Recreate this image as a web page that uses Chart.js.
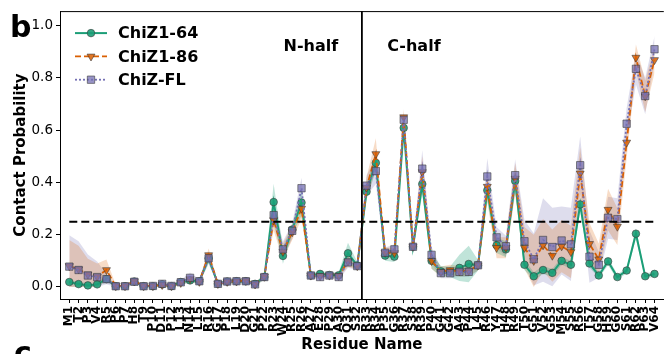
<!DOCTYPE html>
<html><head><meta charset="utf-8">
<script src="https://cdn.jsdelivr.net/npm/chart.js@4/dist/chart.umd.min.js"></script>
<style>html,body{margin:0;padding:0;background:#fff;}#wrap{width:672px;height:354px;position:relative;}</style>
</head><body><div id="wrap"><canvas id="c" width="672" height="354"></canvas></div>
<script>
const residues = ['M1','T2','P3','V4','R5','P6','P7','H8','T9','P10','D11','P12','L13','N14','L15','R16','G17','P18','L19','D20','G21','P22','R23','W24','R25','R26','A27','E28','P29','A30','Q31','S32','R33','R34','P35','G36','R37','S38','R39','P40','G41','G42','A43','P44','L45','R46','Y47','H48','R49','T50','G51','V52','G53','M54','S55','R56','T57','G58','H59','G60','S61','R62','P63','V64'];
const seriesNames = ['ChiZ1-64','ChiZ1-86','ChiZ-FL'];
const chiz64 = [0.019,0.011,0.006,0.010,0.030,0.003,0.003,0.021,0.003,0.003,0.010,0.003,0.019,0.025,0.022,0.110,0.012,0.021,0.022,0.022,0.012,0.038,0.325,0.119,0.220,0.323,0.044,0.050,0.046,0.045,0.129,0.082,0.365,0.475,0.120,0.116,0.609,0.154,0.394,0.100,0.060,0.058,0.073,0.088,0.083,0.370,0.160,0.144,0.406,0.085,0.041,0.065,0.054,0.100,0.085,0.316,0.090,0.044,0.098,0.038,0.063,0.204,0.041,0.050];
const chiz86 = [0.080,0.068,0.048,0.040,0.065,0.004,0.004,0.022,0.004,0.004,0.008,0.004,0.016,0.030,0.020,0.122,0.012,0.020,0.022,0.024,0.010,0.040,0.256,0.135,0.210,0.300,0.044,0.042,0.044,0.042,0.098,0.080,0.380,0.509,0.131,0.130,0.650,0.154,0.440,0.100,0.058,0.065,0.060,0.062,0.083,0.384,0.150,0.150,0.415,0.150,0.100,0.160,0.120,0.156,0.134,0.435,0.165,0.106,0.296,0.231,0.553,0.878,0.730,0.869];
const chizFL = [0.078,0.065,0.044,0.038,0.030,0.003,0.003,0.020,0.003,0.004,0.012,0.004,0.018,0.035,0.022,0.110,0.012,0.021,0.022,0.022,0.010,0.038,0.275,0.144,0.215,0.378,0.044,0.038,0.044,0.038,0.094,0.080,0.388,0.444,0.131,0.144,0.640,0.154,0.453,0.123,0.053,0.053,0.058,0.058,0.083,0.423,0.190,0.156,0.428,0.175,0.106,0.180,0.153,0.178,0.163,0.466,0.116,0.085,0.265,0.260,0.625,0.835,0.731,0.910];
const chiz64Sd = [0.010,0.008,0.008,0.008,0.010,0.005,0.005,0.008,0.005,0.005,0.006,0.005,0.008,0.010,0.008,0.020,0.006,0.008,0.008,0.008,0.006,0.010,0.070,0.030,0.020,0.050,0.010,0.010,0.010,0.010,0.040,0.015,0.030,0.030,0.020,0.020,0.030,0.020,0.040,0.030,0.020,0.020,0.050,0.070,0.020,0.040,0.030,0.030,0.040,0.020,0.015,0.015,0.015,0.015,0.015,0.025,0.015,0.010,0.015,0.010,0.010,0.020,0.010,0.010];
const chiz86Sd = [0.100,0.090,0.060,0.050,0.040,0.005,0.005,0.008,0.005,0.005,0.006,0.005,0.008,0.010,0.008,0.025,0.006,0.008,0.008,0.008,0.006,0.010,0.040,0.030,0.030,0.040,0.010,0.010,0.010,0.010,0.020,0.015,0.040,0.060,0.020,0.020,0.030,0.020,0.060,0.030,0.020,0.020,0.020,0.020,0.020,0.060,0.040,0.040,0.060,0.080,0.100,0.100,0.100,0.100,0.100,0.100,0.080,0.060,0.080,0.070,0.060,0.050,0.060,0.050];
const chizFLSd = [0.120,0.110,0.080,0.060,0.020,0.005,0.005,0.008,0.005,0.005,0.006,0.005,0.008,0.020,0.008,0.020,0.006,0.008,0.008,0.008,0.006,0.010,0.040,0.030,0.030,0.040,0.010,0.010,0.010,0.010,0.020,0.015,0.040,0.050,0.020,0.020,0.030,0.020,0.070,0.030,0.020,0.020,0.020,0.020,0.020,0.070,0.040,0.040,0.060,0.080,0.100,0.160,0.150,0.130,0.140,0.110,0.100,0.050,0.080,0.080,0.060,0.060,0.070,0.050];
const yTickValues = [0.0,0.2,0.4,0.6,0.8,1.0];
const thresholdValue = 0.25;
const lastNHalfResidue = 'S32';
const halfLabels = ['N-half','C-half'];

const FONT = 'DejaVu Sans';
Chart.defaults.font.family = FONT;
Chart.defaults.color = '#000';

const styles = [
  {color:'#1b9e77', band:'rgba(27,158,119,0.28)', dash:[], width:2, point:'circle', r:3.8, rot:0, fill:'rgba(27,158,119,0.9)', order:3},
  {color:'#d95f02', band:'rgba(217,95,2,0.22)', dash:[6,3], width:1.8, point:'triangle', r:4.6, rot:180, fill:'rgba(217,95,2,0.85)', order:2},
  {color:'#7570b3', band:'rgba(117,112,179,0.24)', dash:[2,2], width:1.8, point:'rect', r:5.2, rot:0, fill:'rgba(117,112,179,0.75)', order:1}
];
const means = [chiz64, chiz86, chizFL];
const sds = [chiz64Sd, chiz86Sd, chizFLSd];

const datasets = [];
means.forEach((m, k) => {
  const sd = sds[k];
  datasets.push({label:'_lo'+k, data:m.map((v,i)=>({x:i,y:Math.max(0,v-sd[i])})), pointRadius:0, borderWidth:0, fill:false, order:10});
  datasets.push({label:'_hi'+k, data:m.map((v,i)=>({x:i,y:v+sd[i]})), pointRadius:0, borderWidth:0, backgroundColor:styles[k].band, fill:'-1', order:10});
});
means.forEach((m, k) => {
  const s = styles[k];
  datasets.push({label:seriesNames[k], data:m.map((v,i)=>({x:i,y:v})), borderColor:s.color, borderWidth:s.width, borderDash:s.dash,
    pointStyle:s.point, pointRadius:s.r, pointRotation:s.rot, pointBackgroundColor:s.fill, pointBorderColor:'rgba(60,60,60,0.75)', pointBorderWidth:0.8,
    fill:false, tension:0, order:s.order});
});

function drawMarker(ctx, kind, x, y, r, fill){
  ctx.beginPath();
  if (kind === 'circle') { ctx.arc(x, y, r, 0, Math.PI*2); }
  else if (kind === 'rect') { const h = r*Math.SQRT1_2; ctx.rect(x-h, y-h, 2*h, 2*h); }
  else { const h = r*0.866; ctx.moveTo(x, y + r); ctx.lineTo(x - h, y - r/2); ctx.lineTo(x + h, y - r/2); ctx.closePath(); }
  ctx.fillStyle = fill; ctx.fill();
  ctx.strokeStyle = 'rgba(60,60,60,0.75)'; ctx.lineWidth = 0.8; ctx.setLineDash([]); ctx.stroke();
}

const deco = {
  id:'deco',
  afterDatasetsDraw(chart){
    const {ctx, chartArea:a, scales:{x, y}} = chart;
    ctx.save();
    ctx.strokeStyle = '#000';
    ctx.lineWidth = 1;
    ctx.beginPath(); ctx.moveTo(a.left, a.top + 0.5); ctx.lineTo(a.right, a.top + 0.5); ctx.stroke();
    const yy = y.getPixelForValue(thresholdValue);
    ctx.setLineDash([8,4]); ctx.lineWidth = 2;
    ctx.beginPath(); ctx.moveTo(x.getPixelForValue(0), yy); ctx.lineTo(x.getPixelForValue(residues.length-1), yy); ctx.stroke();
    ctx.setLineDash([]);
    const split = residues.indexOf(lastNHalfResidue) + 0.5;
    const sx = x.getPixelForValue(split);
    ctx.lineWidth = 1.8;
    ctx.beginPath(); ctx.moveTo(sx, a.top); ctx.lineTo(sx, a.bottom); ctx.stroke();
    ctx.restore();
  },
  afterDraw(chart){
    const {ctx, chartArea:a, scales:{x, y}} = chart;
    ctx.save();
    // legend
    styles.forEach((s, k) => {
      const ly = a.top + 22 + k*23.3;
      const lx0 = a.left + 15, lx1 = a.left + 47;
      ctx.strokeStyle = s.color; ctx.lineWidth = s.width; ctx.setLineDash(s.dash);
      ctx.beginPath(); ctx.moveTo(lx0, ly); ctx.lineTo(lx1, ly); ctx.stroke();
      drawMarker(ctx, s.point, (lx0+lx1)/2, ly, s.r, s.fill);
      ctx.fillStyle = '#000'; ctx.font = 'bold 16px "' + FONT + '"';
      ctx.textAlign = 'left'; ctx.textBaseline = 'middle';
      ctx.fillText(seriesNames[k], a.left + 58, ly + 1);
    });
    // half labels
    const split = residues.indexOf(lastNHalfResidue) + 0.5;
    const sx = x.getPixelForValue(split);
    ctx.font = 'bold 16px "' + FONT + '"'; ctx.textBaseline = 'middle'; ctx.textAlign = 'center';
    const ty = y.getPixelForValue(0.92);
    ctx.fillText(halfLabels[0], sx - 51, ty);
    ctx.fillText(halfLabels[1], sx + 52, ty);
    // panel letters
    ctx.textAlign = 'left'; ctx.textBaseline = 'alphabetic';
    ctx.font = 'bold 30px "' + FONT + '"';
    ctx.fillText('b', 10, 37);
    ctx.fillText('c', 14, 363);
    ctx.restore();
  }
};

new Chart(document.getElementById('c'), {
  type:'line',
  data:{datasets},
  options:{
    responsive:false, animation:false, devicePixelRatio:1,
    layout:{padding:{top:5, right:0, left:0, bottom:0}},
    plugins:{legend:{display:false}, tooltip:{enabled:false}, filler:{drawTime:'beforeDatasetsDraw'}},
    scales:{
      x:{type:'linear', min:-1, max:64,
        afterBuildTicks:(s)=>{ s.ticks = residues.map((_,i)=>({value:i})); },
        afterFit:(s)=>{ s.height = 55; },
        ticks:{autoSkip:false, minRotation:90, maxRotation:90, padding:3, font:{size:12, weight:'bold'},
          callback:(v)=> residues[v] ?? ''},
        grid:{drawOnChartArea:false, drawTicks:true, tickLength:4, color:'#000', tickWidth:1},
        border:{display:true, color:'#000', width:1},
        title:{display:true, text:'Residue Name', font:{size:15, weight:'bold'}, padding:{top:0, bottom:0}}
      },
      y:{type:'linear', min:-0.046, max:1.056,
        afterBuildTicks:(s)=>{ s.ticks = yTickValues.map(v=>({value:v})); },
        afterFit:(s)=>{ s.width = 60; },
        ticks:{padding:3, font:{size:13.5}, callback:(v)=> Number(v).toFixed(1)},
        grid:{drawOnChartArea:false, drawTicks:true, tickLength:4, color:'#000', tickWidth:1},
        border:{display:true, color:'#000', width:1},
        title:{display:true, text:'Contact Probability', font:{size:15, weight:'bold'}, padding:{top:12, bottom:0}}
      }
    }
  },
  plugins:[deco]
});
</script></body></html>
